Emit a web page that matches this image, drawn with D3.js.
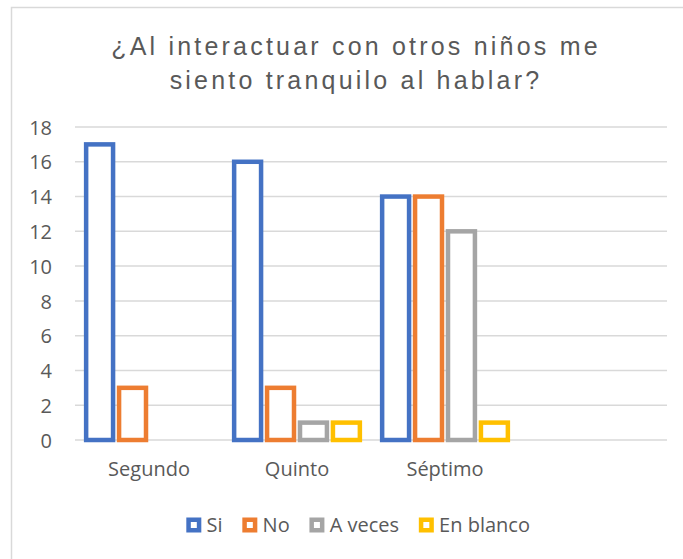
<!DOCTYPE html>
<html><head><meta charset="utf-8">
<script src="https://cdn.jsdelivr.net/npm/d3@7"></script>
<style>html,body{margin:0;padding:0;background:#fff;}</style>
</head><body>
<svg id="chart" width="683" height="559"></svg>
<script>
const titleLines = ["¿Al interactuar con otros niños me", "siento tranquilo al hablar?"];
const categories = ["Segundo", "Quinto", "Séptimo", ""];
const seriesNames = ["Si", "No", "A veces", "En blanco"];
const seriesColors = ["#4472C4", "#ED7D31", "#A5A5A5", "#FFC000"];
const siValues = [17, 16, 14, null];
const noValues = [3, 3, 14, null];
const aVecesValues = [null, 1, 12, null];
const enBlancoValues = [null, 1, 1, null];
const yTicks = [0, 2, 4, 6, 8, 10, 12, 14, 16, 18];

const seriesValues = [siValues, noValues, aVecesValues, enBlancoValues];
const svg = d3.select("#chart");
const txtColor = "#595959";
const font = "'Open Sans', sans-serif";

// outer border
svg.append("rect").attr("x", 11.5).attr("y", 7.5).attr("width", 700).attr("height", 600)
  .attr("fill", "#fff").attr("stroke", "#d9d9d9").attr("stroke-width", 1.5);

// title
svg.append("g").selectAll("text").data(titleLines).join("text")
  .attr("x", 356).attr("y", (d, i) => 55 + i * 34)
  .attr("text-anchor", "middle")
  .attr("font-family", "'Liberation Sans', Arial, sans-serif")
  .attr("font-size", 25).attr("letter-spacing", "3.2px")
  .attr("fill", txtColor).text(d => d);

const x0 = d3.scaleBand().domain(categories).range([75, 667]).padding(0);
const y = d3.scaleLinear().domain([0, 18]).range([440, 127]);
const groupW = x0.bandwidth() * 0.89;
const x1 = d3.scaleBand().domain(seriesNames).range([0, groupW]);

// gridlines
svg.append("g").selectAll("line").data(yTicks).join("line")
  .attr("x1", 75).attr("x2", 667)
  .attr("y1", d => y(d)).attr("y2", d => y(d))
  .attr("stroke", "#d9d9d9").attr("stroke-width", 1.5);

// y axis labels
const yAxis = d3.axisLeft(y).tickValues(yTicks).tickSize(0).tickPadding(0);
const ya = svg.append("g").attr("transform", "translate(52,0)").call(yAxis);
ya.select(".domain").remove();
ya.selectAll("text").attr("font-family", font).attr("font-size", 20).attr("fill", txtColor).attr("dy", "0.36em");

// x axis labels
const xAxis = d3.axisBottom(x0).tickSize(0).tickPadding(0);
const xa = svg.append("g").attr("transform", "translate(0,462)").call(xAxis);
xa.select(".domain").remove();
xa.selectAll("text").attr("font-family", font).attr("font-size", 20).attr("fill", txtColor).attr("dy", "0.71em");

// bars
const sw = 4.5;
const barData = [];
seriesNames.forEach((s, si) => {
  categories.forEach((c, ci) => {
    const v = seriesValues[si][ci];
    if (v !== null && v !== undefined) barData.push({s, si, c, v});
  });
});
svg.append("g").selectAll("rect").data(barData).join("rect")
  .attr("x", d => x0(d.c) + (x0.bandwidth() - groupW) / 2 + x1(d.s) + 0.75 + sw / 2)
  .attr("width", x1.bandwidth() - 1.5 - sw)
  .attr("y", d => y(d.v))
  .attr("height", d => y(0) - y(d.v))
  .attr("fill", "#fff")
  .attr("stroke", d => seriesColors[d.si])
  .attr("stroke-width", sw);

// legend
const lg = svg.append("g");
const items = lg.selectAll("g").data(seriesNames).join("g");
items.append("rect").attr("width", 10.5).attr("height", 10.5).attr("y", -5.25)
  .attr("fill", "#fff").attr("stroke", (d, i) => seriesColors[i]).attr("stroke-width", 4.5);
items.append("text").attr("x", 18).attr("y", 7)
  .attr("font-family", font).attr("font-size", 20).attr("fill", txtColor).text(d => d);
let cx = 0;
const offs = [];
items.each(function (d) {
  offs.push(cx);
  const w = d3.select(this).select("text").node().getComputedTextLength();
  cx += 18 + w + 22;
});
const total = cx - 22;
const startX = 357 - total / 2 + 2.25;
items.attr("transform", (d, i) => `translate(${startX + offs[i]},525)`);
</script>
</body></html>
